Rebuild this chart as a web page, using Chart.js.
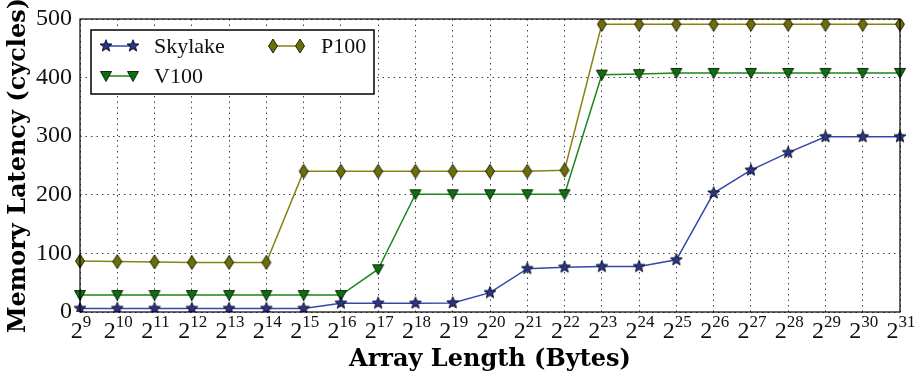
<!DOCTYPE html>
<html>
<head>
<meta charset="utf-8">
<script src="https://cdn.jsdelivr.net/npm/chart.js@4"></script>
<style>
  html, body { margin: 0; padding: 0; background: #fff; }
  #wrap { width: 916px; height: 376px; position: relative; }
</style>
</head>
<body>
<div id="wrap"><canvas id="latencyChart"></canvas></div>
<script>
// exponents of the array length (2^n bytes)
const exponents = [9, 10, 11, 12, 13, 14, 15, 16, 17, 18, 19, 20, 21, 22, 23, 24, 25, 26, 27, 28, 29, 30, 31];
const skylake = [6, 6, 6, 6, 6, 6, 6, 15, 15, 15, 15.5, 33, 74, 76.5, 77.5, 77.5, 89, 203, 242, 272, 299, 299, 299];
const v100 = [29, 29, 29, 29, 29, 29, 29, 29, 73, 201, 201, 201, 201, 201, 405, 406, 408, 408, 408, 408, 408, 408, 408];
const p100 = [87, 86, 85.5, 84.5, 84.5, 84.5, 240, 240, 240, 240, 240, 240, 240, 242, 491, 491, 491, 491, 491, 491, 491, 491, 491];
const yTicks = [0, 100, 200, 300, 400, 500];

const labels = exponents.map(e => '2^' + e);

const SERIF = '"Liberation Serif", "DejaVu Serif", serif';
const TITLE_SERIF = '"DejaVu Serif", "Liberation Serif", serif';

// small canvases used as point styles (matplotlib-like markers)
function marker(kind, fill) {
    const c = document.createElement('canvas');
    c.width = 16; c.height = 16;
    const g = c.getContext('2d');
    g.translate(8, 8);
    g.beginPath();
    if (kind === 'star') {
        for (let i = 0; i < 10; i++) {
            const r = i % 2 === 0 ? 6.3 : 2.7;
            const a = -Math.PI / 2 + i * Math.PI / 5;
            g.lineTo(r * Math.cos(a), r * Math.sin(a));
        }
    } else if (kind === 'tri') {
        g.moveTo(-5.5, -4.5); g.lineTo(5.5, -4.5); g.lineTo(0, 5.5);
    } else {
        g.moveTo(0, -7); g.lineTo(4.5, 0); g.lineTo(0, 7); g.lineTo(-4.5, 0);
    }
    g.closePath();
    g.fillStyle = fill;
    g.fill();
    g.lineWidth = 0.8;
    g.strokeStyle = '#000';
    g.stroke();
    return c;
}

const series = [
    { label: 'Skylake', data: skylake, color: '#3547ab', pt: marker('star', '#27358f') },
    { label: 'V100', data: v100, color: '#18881a', pt: marker('tri', '#0b720b') },
    { label: 'P100', data: p100, color: '#858510', pt: marker('diamond', '#6e6e05') }
];

// frame, 2^n tick labels and legend box inside the plot area
const framePlugin = {
    id: 'frameLegend',
    afterDraw(chart) {
        const { ctx, chartArea: a } = chart;
        ctx.save();
        ctx.strokeStyle = '#000';
        ctx.lineWidth = 1.2;
        ctx.strokeRect(a.left, a.top, a.right - a.left, a.bottom - a.top);

        // x tick labels as 2 with a raised exponent
        const xs = chart.scales.x;
        ctx.fillStyle = '#111';
        ctx.textBaseline = 'alphabetic';
        ctx.textAlign = 'left';
        exponents.forEach((e, i) => {
            const x = xs.getPixelForTick(i);
            ctx.font = '24px ' + SERIF;
            const wb = ctx.measureText('2').width;
            ctx.font = '17px ' + SERIF;
            const we = ctx.measureText(String(e)).width;
            const x0 = x - (wb + we) / 2 + 1;
            ctx.font = '24px ' + SERIF;
            ctx.fillText('2', x0, 338);
            ctx.font = '17px ' + SERIF;
            ctx.fillText(String(e), x0 + wb, 327);
        });

        // legend
        const bx = 91, by = 30, bw = 283, bh = 64;
        ctx.fillStyle = '#fff';
        ctx.fillRect(bx, by, bw, bh);
        ctx.lineWidth = 1.5;
        ctx.strokeStyle = '#000';
        ctx.strokeRect(bx, by, bw, bh);
        const slots = [
            { x: 102, y: 46 },  // Skylake
            { x: 102, y: 76 },  // V100
            { x: 269, y: 46 }   // P100
        ];
        ctx.font = '22px ' + SERIF;
        ctx.textBaseline = 'middle';
        series.forEach((s, i) => {
            const p = slots[i];
            ctx.strokeStyle = s.color;
            ctx.lineWidth = 1.5;
            ctx.beginPath();
            ctx.moveTo(p.x + 4, p.y);
            ctx.lineTo(p.x + 31, p.y);
            ctx.stroke();
            ctx.drawImage(s.pt, p.x + 4 - 8, p.y - 8);
            ctx.drawImage(s.pt, p.x + 31 - 8, p.y - 8);
            ctx.fillStyle = '#111';
            ctx.fillText(s.label, p.x + 52, p.y + 1);
        });
        ctx.restore();
    }
};

document.addEventListener('DOMContentLoaded', function() {
    const ctx = document.getElementById('latencyChart').getContext('2d');
    new Chart(ctx, {
        type: 'line',
        data: {
            labels: labels,
            datasets: series.map(s => ({
                label: s.label,
                data: s.data,
                borderColor: s.color,
                backgroundColor: s.color,
                borderWidth: 1.5,
                pointStyle: s.pt,
                pointRadius: 6,
                tension: 0,
                fill: false
            }))
        },
        options: {
            responsive: true,
            maintainAspectRatio: false,
            animation: false,
            layout: { padding: { top: 19, right: 16, left: 0, bottom: 0 } },
            plugins: {
                legend: { display: false },
                tooltip: { enabled: false }
            },
            scales: {
                x: {
                    offset: false,
                    grid: { color: 'rgba(0,0,0,0.75)', lineWidth: 1, drawTicks: false },
                    border: { display: false, dash: [1.5, 4] },
                    ticks: { display: false, autoSkip: false },
                    title: {
                        display: true,
                        text: 'Array Length (Bytes)',
                        color: '#000',
                        padding: { top: 4, bottom: 2 },
                        font: { family: TITLE_SERIF, size: 24, weight: 'bold' }
                    },
                    afterFit(scale) { scale.height = 64; scale.paddingLeft = 0; scale.paddingRight = 0; }
                },
                y: {
                    min: 0,
                    max: 500,
                    grid: { color: 'rgba(0,0,0,0.75)', lineWidth: 1, drawTicks: false },
                    border: { display: false, dash: [1.5, 4] },
                    ticks: {
                        stepSize: 100,
                        padding: 8,
                        color: '#111',
                        font: { family: SERIF, size: 24 },
                        callback: v => yTicks.includes(v) ? String(v) : ''
                    },
                    title: {
                        display: true,
                        text: 'Memory Latency (cycles)',
                        color: '#000',
                        padding: { top: 4, bottom: 0 },
                        font: { family: TITLE_SERIF, size: 24, weight: 'bold' }
                    },
                    afterFit(scale) { scale.width = 80; scale.paddingTop = 0; scale.paddingBottom = 0; }
                }
            }
        },
        plugins: [framePlugin]
    });
});
</script>
</body>
</html>
